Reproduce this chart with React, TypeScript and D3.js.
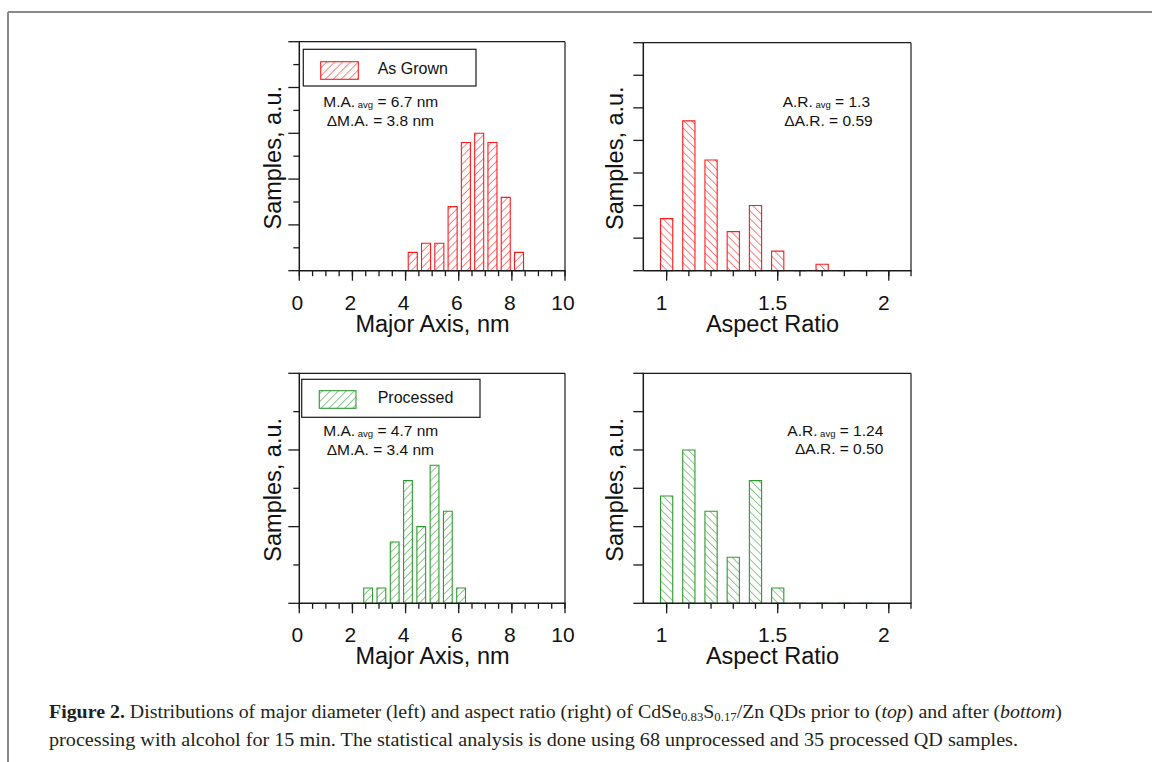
import React from 'react';
import * as d3 from 'd3';

// ---------- data ----------
const majorAxisTickValues = [0, 2, 4, 6, 8, 10];
const aspectTickValues = [1, 1.5, 2];

const grownMajorBins = [4.27, 4.77, 5.27, 5.77, 6.27, 6.77, 7.27, 7.77, 8.27, 8.77];
const grownMajorCounts = [2, 3, 3, 7, 14, 15, 14, 8, 2, 0];

const grownAspectBins = [1.0, 1.1, 1.2, 1.3, 1.4, 1.5, 1.6, 1.7, 1.8, 1.9];
const grownAspectCounts = [8, 23, 17, 6, 10, 3, 0, 1, 0, 0];

const procMajorBins = [2.09, 2.59, 3.09, 3.59, 4.09, 4.59, 5.09, 5.59, 6.09, 6.59];
const procMajorCounts = [0, 1, 1, 4, 8, 5, 9, 6, 1, 0];

const procAspectBins = [1.0, 1.1, 1.2, 1.3, 1.4, 1.5, 1.6, 1.7, 1.8, 1.9];
const procAspectCounts = [7, 10, 6, 3, 8, 1, 0, 0, 0, 0];

const RED = '#ff1a1a';
const GREEN = '#2f9a2f';
const AXIS = '#1a1a1a';
const SANS = '"Liberation Sans", Arial, Helvetica, sans-serif';
const SERIF = '"Liberation Serif", "Times New Roman", serif';

type PanelProps = {
  l: number; t: number; r: number; b: number;
  xDomain: [number, number];
  yMax: number; yStep: number; yAlt: boolean;
  xMinor: number[]; xMajor: number[]; xLabelDx: number;
  bins: number[]; counts: number[]; barW: number;
  color: string; pattern: string;
  xTitle: string; xTitleX: number; yTitleX: number;
  legend?: { label: string; box: [number, number, number, number]; sw: [number, number, number, number]; tx: number; ty: number };
  annot: React.ReactNode;
};

function Panel(p: PanelProps) {
  const x = d3.scaleLinear().domain(p.xDomain).range([p.l, p.r]);
  const y = d3.scaleLinear().domain([0, p.yMax]).range([p.b, p.t]);
  const yTicks = d3.range(0, p.yMax + 1e-9, p.yStep);
  const y0 = y(0);
  return (
    <g>
      {p.bins.map((c, i) => {
        const x0 = x(c - p.barW / 2);
        const x1 = x(c + p.barW / 2);
        const yt = y(p.counts[i]);
        const d = `M${x0},${y0}V${yt}H${x1}V${y0}Z`;
        return <path key={i} d={d} fill={`url(#${p.pattern})`} stroke={p.color} strokeWidth={1.1} />;
      })}
      {/* frame */}
      <line x1={p.l} y1={p.t} x2={p.r} y2={p.t} stroke={AXIS} strokeWidth={1.2} />
      <line x1={p.r} y1={p.t} x2={p.r} y2={p.b} stroke={AXIS} strokeWidth={1.2} />
      <line x1={p.l} y1={p.t - 0.6} x2={p.l} y2={p.b} stroke={AXIS} strokeWidth={1.5} />
      <line x1={p.l} y1={p.b} x2={p.r + 0.6} y2={p.b} stroke={AXIS} strokeWidth={1.5} />
      {yTicks.map((v, i) => {
        const len = p.yAlt ? (i % 2 === 0 ? 11 : 6) : 10;
        return <line key={'yt' + i} x1={p.l - len} x2={p.l} y1={y(v)} y2={y(v)} stroke={AXIS} strokeWidth={1.3} />;
      })}
      {p.xMinor.map((v, i) => (
        <line key={'xm' + i} x1={x(v)} x2={x(v)} y1={p.b} y2={p.b + 5.5} stroke={AXIS} strokeWidth={1.3} />
      ))}
      {p.xMajor.map((v, i) => (
        <g key={'xM' + i}>
          <line x1={x(v)} x2={x(v)} y1={p.b} y2={p.b + 10} stroke={AXIS} strokeWidth={1.3} />
          <text x={x(v) + p.xLabelDx} y={p.b + 39} textAnchor="middle" fontFamily={SANS} fontSize={21} fill="#111">
            {String(v)}
          </text>
        </g>
      ))}
      <text x={p.xTitleX} y={p.b + 61} textAnchor="middle" fontFamily={SANS} fontSize={23.5} fill="#111">{p.xTitle}</text>
      <text transform={`translate(${p.yTitleX},${(p.t + p.b) / 2 + 1.5}) rotate(-90)`} textAnchor="middle" fontFamily={SANS} fontSize={23.5} fill="#111">
        Samples, a.u.
      </text>
      {p.legend && (
        <g>
          <rect x={p.legend.box[0]} y={p.legend.box[1]} width={p.legend.box[2]} height={p.legend.box[3]} fill="#fff" stroke={AXIS} strokeWidth={1.2} />
          <rect x={p.legend.sw[0]} y={p.legend.sw[1]} width={p.legend.sw[2]} height={p.legend.sw[3]} fill={`url(#${p.pattern.replace('B', 'F')})`} stroke={p.color} strokeWidth={1.1} />
          <text x={p.legend.tx} y={p.legend.ty} fontFamily={SANS} fontSize={16} fill="#111">{p.legend.label}</text>
        </g>
      )}
      {p.annot}
    </g>
  );
}

function Annot({ x, y, lead, value, anchor = 'start' }: { x: number; y: number; lead: string; value: string; anchor?: string }) {
  return (
    <text x={x} y={y} fontFamily={SANS} fontSize={15.5} fill="#111" textAnchor={anchor as any}>
      {lead}
      <tspan fontSize={9.5} dy={1}>{' avg'}</tspan>
      <tspan dy={-1}>{' = ' + value}</tspan>
    </text>
  );
}
function Annot2({ x, y, text, anchor = 'start' }: { x: number; y: number; text: string; anchor?: string }) {
  return (
    <text x={x} y={y} fontFamily={SANS} fontSize={15.5} fill="#111" textAnchor={anchor as any}>{text}</text>
  );
}

function Hatch({ id, color, angle }: { id: string; color: string; angle: number }) {
  return (
    <pattern id={id} patternUnits="userSpaceOnUse" width={5.6} height={5.6} patternTransform={`rotate(${angle})`}>
      <rect width={5.6} height={5.6} fill="#fff" />
      <line x1={0} y1={0} x2={0} y2={5.6} stroke={color} strokeWidth={1.1} />
    </pattern>
  );
}

export default function App() {
  const leftMinor = d3.range(0, 10.001, 0.5);
  const rightMinor = d3.range(1.0, 2.1001, 0.1);
  return (
    <svg width={1153} height={762} style={{ position: 'absolute', left: 0, top: 0, background: '#fff' }}>
      <defs>
        <Hatch id="redF" color={RED} angle={45} />
        <Hatch id="redB" color={RED} angle={-45} />
        <Hatch id="greenF" color={GREEN} angle={45} />
        <Hatch id="greenB" color={GREEN} angle={-45} />
      </defs>
      <rect x={0} y={0} width={1153} height={762} fill="#fff" />
      <line x1={8} y1={12} x2={1152} y2={12} stroke="#8a8a8a" strokeWidth={2} />
      <line x1={8} y1={12} x2={8} y2={762} stroke="#8a8a8a" strokeWidth={2} />

      <Panel l={299.3} t={41.7} r={565} b={270.7} xDomain={[0, 10]} yMax={25} yStep={2.5} yAlt={true}
        xMinor={leftMinor} xMajor={majorAxisTickValues} xLabelDx={-2}
        bins={grownMajorBins} counts={grownMajorCounts} barW={0.34} color={RED} pattern="redF"
        xTitle="Major Axis, nm" xTitleX={432.5} yTitleX={281}
        legend={{ label: 'As Grown', box: [303.3, 49.3, 172.7, 36.7], sw: [320.7, 61.7, 37.6, 17.6], tx: 377.7, ty: 73.5 }}
        annot={<g>
          <Annot x={323.3} y={107.3} lead="M.A." value="6.7 nm" />
          <Annot2 x={326.7} y={125.7} text="ΔM.A. = 3.8 nm" />
        </g>} />

      <Panel l={643.3} t={42.7} r={911} b={270.7} xDomain={[0.895, 2.1]} yMax={35} yStep={5} yAlt={false}
        xMinor={rightMinor} xMajor={aspectTickValues} xLabelDx={-5}
        bins={grownAspectBins} counts={grownAspectCounts} barW={0.055} color={RED} pattern="redB"
        xTitle="Aspect Ratio" xTitleX={772.5} yTitleX={623.3}
        annot={<g>
          <Annot x={782.7} y={107.3} lead="A.R." value="1.3" />
          <Annot2 x={784.3} y={125.7} text="ΔA.R. = 0.59" />
        </g>} />

      <Panel l={299.3} t={373.3} r={565} b={603.3} xDomain={[0, 10]} yMax={15} yStep={2.5} yAlt={true}
        xMinor={leftMinor} xMajor={majorAxisTickValues} xLabelDx={-2}
        bins={procMajorBins} counts={procMajorCounts} barW={0.33} color={GREEN} pattern="greenF"
        xTitle="Major Axis, nm" xTitleX={432.5} yTitleX={281}
        legend={{ label: 'Processed', box: [301.7, 379.3, 178.3, 38], sw: [319.3, 390.7, 36.7, 17.6], tx: 377.7, ty: 402.5 }}
        annot={<g>
          <Annot x={323.3} y={436} lead="M.A." value="4.7 nm" />
          <Annot2 x={326.7} y={455} text="ΔM.A. = 3.4 nm" />
        </g>} />

      <Panel l={643.3} t={373.3} r={911} b={603.3} xDomain={[0.895, 2.1]} yMax={15} yStep={2.5} yAlt={false}
        xMinor={rightMinor} xMajor={aspectTickValues} xLabelDx={-5}
        bins={procAspectBins} counts={procAspectCounts} barW={0.055} color={GREEN} pattern="greenB"
        xTitle="Aspect Ratio" xTitleX={772.5} yTitleX={623.3}
        annot={<g>
          <Annot x={883.3} y={436} lead="A.R." value="1.24" anchor="end" />
          <Annot2 x={883.3} y={454.3} text="ΔA.R. = 0.50" anchor="end" />
        </g>} />

      <text x={49} y={718} fontFamily={SERIF} fontSize={19.5} fill="#231f20" textLength={1013} lengthAdjust="spacingAndGlyphs">
        <tspan fontWeight="bold">Figure 2.</tspan>
        {' Distributions of major diameter (left) and aspect ratio (right) of CdSe'}
        <tspan fontSize={12.5} dy={3}>0.83</tspan>
        <tspan dy={-3}>S</tspan>
        <tspan fontSize={12.5} dy={3}>0.17</tspan>
        <tspan dy={-3}>{'/Zn QDs prior to ('}</tspan>
        <tspan fontStyle="italic">top</tspan>
        {') and after ('}
        <tspan fontStyle="italic">bottom</tspan>
        {')'}
      </text>
      <text x={49} y={746} fontFamily={SERIF} fontSize={19.5} fill="#231f20" textLength={969} lengthAdjust="spacingAndGlyphs">
        processing with alcohol for 15 min. The statistical analysis is done using 68 unprocessed and 35 processed QD samples.
      </text>
    </svg>
  );
}
